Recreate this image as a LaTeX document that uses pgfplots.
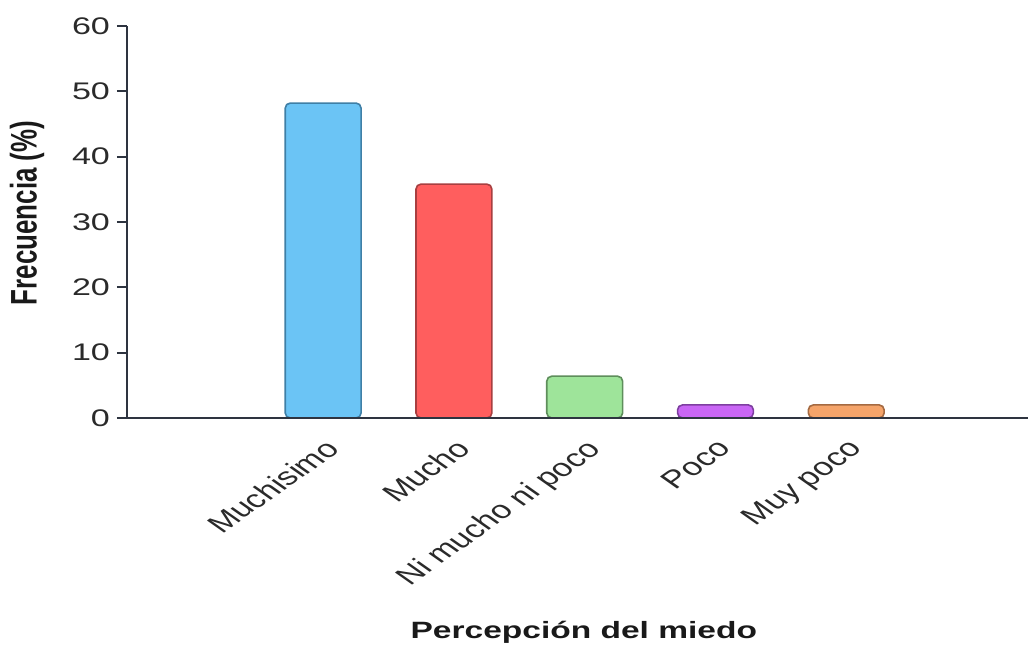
\documentclass[border=0pt]{standalone}
\usepackage{pgfplots}
\pgfplotsset{compat=1.18}
\usepackage{fontspec}
\setmainfont{Liberation Sans}[FakeStretch=1.42]
\newfontfamily\catfont{Liberation Sans}
\newfontfamily\ylfont{Liberation Sans}[FakeStretch=0.70]
\definecolor{axc}{HTML}{2E3440}
\definecolor{txc}{HTML}{2A2A2A}
\definecolor{b1}{HTML}{6BC4F5}\definecolor{b1d}{HTML}{3F7FA6}
\definecolor{b2}{HTML}{FF5E5E}\definecolor{b2d}{HTML}{A83F40}
\definecolor{b3}{HTML}{9EE49A}\definecolor{b3d}{HTML}{5E8E5B}
\definecolor{b4}{HTML}{C966F5}\definecolor{b4d}{HTML}{7E3FA0}
\definecolor{b5}{HTML}{F5A46A}\definecolor{b5d}{HTML}{A56A42}
\begin{document}
\begin{tikzpicture}
\begin{axis}[
  scale only axis, width=450.5pt, height=196pt,
  xmin=-1.5, xmax=5.39, ymin=0, ymax=60,
  axis lines*=left,
  axis line style={axc, line width=1.1pt},
  axis on top,
  ytick={0,10,20,30,40,50,60},
  xtick={0,1,2,3,4},
  xticklabels={Muchisimo,Mucho,Ni mucho ni poco,Poco,Muy poco},
  tick align=outside, major tick length=5pt,
  ytick style={axc, line width=1.1pt},
  xtick style={draw=none},
  /pgf/number format/assume math mode=true,
  yticklabel style={font=\fontsize{12}{12}\selectfont, color=txc},
  xticklabel style={font=\catfont\fontsize{12.4}{13}\selectfont, color=txc, xshift=0pt, xscale=1.42, rotate=45, anchor=north east},
  ylabel={Frecuencia (\%)},
  ylabel style={font=\ylfont\bfseries\fontsize{18.5}{19}\selectfont, color=black!90, at={(axis description cs:-0.111,0.523)}, anchor=center},
  xlabel={Percepción del miedo},
  xlabel style={font=\bfseries\fontsize{11.8}{12}\selectfont, color=black!90, at={(axis description cs:0.507,-0.546)}, anchor=center},
]
\addplot[ybar, bar shift=0pt, bar width=0.58, fill=b1, draw=b1d, line width=0.8pt, rounded corners=2.5pt] coordinates {(0,48.2)};
\addplot[ybar, bar shift=0pt, bar width=0.58, fill=b2, draw=b2d, line width=0.8pt, rounded corners=2.5pt] coordinates {(1,35.8)};
\addplot[ybar, bar shift=0pt, bar width=0.58, fill=b3, draw=b3d, line width=0.8pt, rounded corners=2.5pt] coordinates {(2,6.4)};
\addplot[ybar, bar shift=0pt, bar width=0.58, fill=b4, draw=b4d, line width=0.8pt, rounded corners=2.5pt] coordinates {(3,2.0)};
\addplot[ybar, bar shift=0pt, bar width=0.58, fill=b5, draw=b5d, line width=0.8pt, rounded corners=2.5pt] coordinates {(4,2.0)};
\end{axis}
\pgfresetboundingbox
\path ([shift={(-63.5pt,-115.5pt)}]current axis.south west) rectangle ([shift={(0pt,13pt)}]current axis.north east);
\end{tikzpicture}
\end{document}
